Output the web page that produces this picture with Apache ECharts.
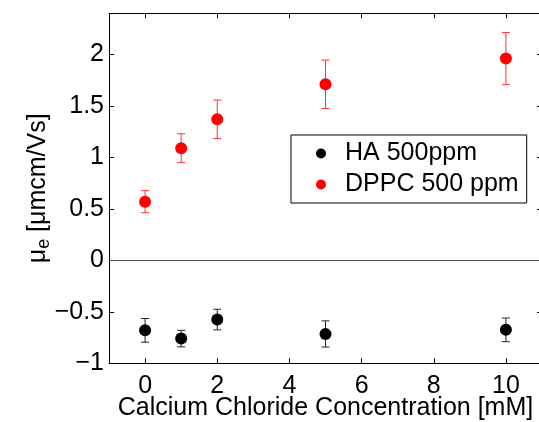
<!DOCTYPE html>
<html>
<head>
<meta charset="utf-8">
<script src="https://cdn.jsdelivr.net/npm/echarts@6/dist/echarts.min.js"></script>
<style>html,body{margin:0;padding:0;background:#fff;}#c{width:539px;height:422px;}</style>
</head>
<body>
<div id="c"></div>
<script>
const xVals = [0, 1, 2, 5, 10];
const haMean = [-0.68, -0.76, -0.575, -0.715, -0.675];
const haErr = [0.115, 0.08, 0.10, 0.127, 0.115];
const dppcMean = [0.57, 1.09, 1.37, 1.71, 1.96];
const dppcErr = [0.107, 0.14, 0.187, 0.235, 0.253];
const xTicks = [0, 2, 4, 6, 8, 10];
const yTicks = [-1, -0.5, 0, 0.5, 1, 1.5, 2];
const seriesNames = ['HA 500ppm', 'DPPC 500 ppm'];
const xName = 'Calcium Chloride Concentration [mM]';

const FONT = 'Liberation Sans';
const FS = 25;
const chart = echarts.init(document.getElementById('c'), null, {renderer: 'canvas'});

function pts(m) { return xVals.map((x, i) => [x, m[i]]); }
function errs(m, e) { return xVals.map((x, i) => [x, m[i] - e[i], m[i] + e[i]]); }
function errRender(color) {
  return function (params, api) {
    const x = api.value(0), lo = api.value(1), hi = api.value(2);
    const a = api.coord([x, lo]), b = api.coord([x, hi]);
    const w = 4;
    const st = {stroke: color, lineWidth: 1};
    return {type: 'group', children: [
      {type: 'line', shape: {x1: a[0], y1: a[1], x2: b[0], y2: b[1]}, style: st},
      {type: 'line', shape: {x1: a[0] - w, y1: a[1], x2: a[0] + w, y2: a[1]}, style: st},
      {type: 'line', shape: {x1: b[0] - w, y1: b[1], x2: b[0] + w, y2: b[1]}, style: st}
    ]};
  };
}
const axLine = {show: true, onZero: false, lineStyle: {color: '#000', width: 1}};
const tickSt = {color: '#000', width: 1};
const yFmt = v => String(v).replace('-', '\u2212');

chart.setOption({
  animation: false,
  backgroundColor: '#fff',
  textStyle: {fontFamily: FONT},
  grid: {left: 109, right: -3, top: 13.3, bottom: 58.7, containLabel: false, outerBoundsMode: 'none'},
  legend: {
    data: seriesNames,
    left: 291, top: 135,
    orient: 'vertical',
    icon: 'circle', itemWidth: 10, itemHeight: 10,
    itemGap: 6,
    padding: [6, 8, 6, 25],
    borderColor: '#000', borderWidth: 1,
    textStyle: {fontSize: FS, color: '#000', fontFamily: FONT, padding: [0, 0, 0, 14], lineHeight: 25}
  },
  xAxis: [{
    type: 'value', min: -1, max: 11, position: 'bottom',
    axisLine: axLine,
    axisTick: {show: true, inside: true, length: 5, customValues: xTicks, lineStyle: tickSt},
    axisLabel: {customValues: xTicks, fontSize: FS, color: '#000', margin: 10, fontFamily: FONT},
    splitLine: {show: false},
    name: xName, nameLocation: 'middle', nameGap: 32, nameMoveOverlap: false,
    nameTextStyle: {fontSize: FS, color: '#000', fontFamily: FONT}
  }, {
    type: 'value', min: -1, max: 11, position: 'top',
    axisLine: axLine,
    axisTick: {show: true, inside: true, length: 5, customValues: xTicks, lineStyle: tickSt},
    axisLabel: {show: false},
    splitLine: {show: false}
  }],
  yAxis: [{
    type: 'value', min: -1, max: 2.4, position: 'left',
    axisLine: axLine,
    axisTick: {show: true, inside: true, length: 5, customValues: yTicks, lineStyle: tickSt},
    axisLabel: {customValues: yTicks, fontSize: FS, color: '#000', margin: 5, formatter: yFmt, fontFamily: FONT},
    splitLine: {show: false},
    name: '{a|\u03bc}{s|e}{a| [\u03bcmcm/Vs]}',
    nameLocation: 'middle', nameGap: 56, nameRotate: 90, nameMoveOverlap: false,
    nameTextStyle: {
      color: '#000', fontFamily: FONT,
      rich: {
        a: {fontSize: FS, color: '#000', fontFamily: FONT, lineHeight: 30},
        s: {fontSize: 18, color: '#000', fontFamily: FONT, verticalAlign: 'bottom', lineHeight: 30, padding: [20, 0, 0, 0]}
      }
    }
  }, {
    type: 'value', min: -1, max: 2.4, position: 'right',
    axisLine: axLine,
    axisTick: {show: true, inside: true, length: 5, customValues: yTicks, lineStyle: tickSt},
    axisLabel: {show: false},
    splitLine: {show: false}
  }],
  series: [
    {
      type: 'custom', name: 'haErr', renderItem: errRender('#222'),
      data: errs(haMean, haErr), z: 2, encode: {x: 0, y: [1, 2]}
    },
    {
      type: 'custom', name: 'dppcErr', renderItem: errRender('#f33'),
      data: errs(dppcMean, dppcErr), z: 2, encode: {x: 0, y: [1, 2]}
    },
    {
      type: 'scatter', name: seriesNames[0], data: pts(haMean),
      symbol: 'circle', symbolSize: 12, itemStyle: {color: '#000', opacity: 1}, z: 3,
      markLine: {
        silent: true, symbol: 'none', label: {show: false},
        lineStyle: {color: '#555', width: 1, type: 'solid'},
        data: [{yAxis: 0}]
      }
    },
    {
      type: 'scatter', name: seriesNames[1], data: pts(dppcMean),
      symbol: 'circle', symbolSize: 12, itemStyle: {color: '#ff0000', opacity: 1}, z: 3
    }
  ]
});
</script>
</body>
</html>
